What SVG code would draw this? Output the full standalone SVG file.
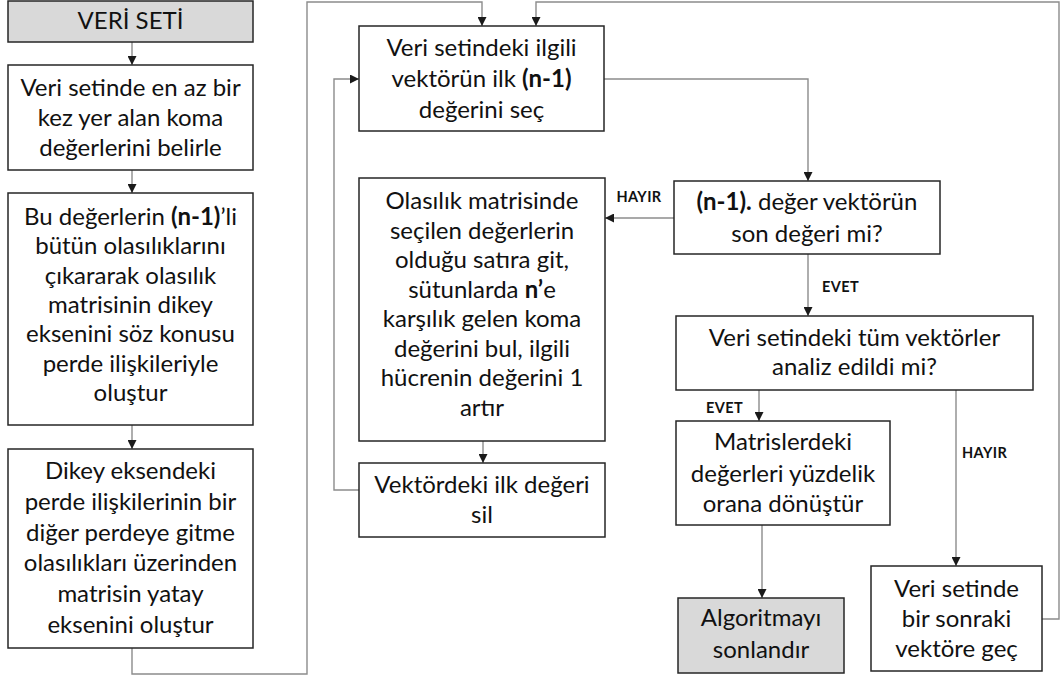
<svg xmlns="http://www.w3.org/2000/svg" width="1060" height="677" viewBox="0 0 1060 677">
<defs>
<style>
.box{fill:#ffffff;stroke:#262626;stroke-width:1.5}
.gray{fill:#d9d9d9}
.t{font-family:Lato,"Liberation Sans",sans-serif;font-size:24px;fill:#111111;text-anchor:middle}
.b{font-weight:bold}
.lbl{font-family:Lato,"Liberation Sans",sans-serif;font-size:14.5px;font-weight:bold;fill:#111111;letter-spacing:0.4px}
.c{fill:none;stroke:#8c8c8c;stroke-width:1.4}
</style>
<marker id="ah" viewBox="0 0 10 10" refX="10" refY="5" markerWidth="9" markerHeight="9" markerUnits="userSpaceOnUse" orient="auto">
<path d="M0,0 L10,5 L0,10 Z" fill="#1a1a1a"/>
</marker>
</defs>
<rect width="1060" height="677" fill="#ffffff"/>

<g id="connectors">
<path class="c" d="M132,42 V65" marker-end="url(#ah)"/>
<path class="c" d="M132,170 V193" marker-end="url(#ah)"/>
<path class="c" d="M132,425 V449" marker-end="url(#ah)"/>
<path class="c" d="M132,648 V674 H307 V2 H482 V26" marker-end="url(#ah)"/>
<path class="c" d="M359,490 H334 V79 H359" marker-end="url(#ah)"/>
<path class="c" d="M604,79 H808 V181" marker-end="url(#ah)"/>
<path class="c" d="M674,218 H605" marker-end="url(#ah)"/>
<path class="c" d="M483,441 V463" marker-end="url(#ah)"/>
<path class="c" d="M808,254 V316" marker-end="url(#ah)"/>
<path class="c" d="M759,390 V421" marker-end="url(#ah)"/>
<path class="c" d="M956,390 V566" marker-end="url(#ah)"/>
<path class="c" d="M762,525 V598" marker-end="url(#ah)"/>
<path class="c" d="M1042,619 H1059 V2 H536 V26" marker-end="url(#ah)"/>
<text class="lbl" x="639" y="202" text-anchor="middle">HAYIR</text>
<text class="lbl" x="822" y="292">EVET</text>
<text class="lbl" x="706" y="413">EVET</text>
<text class="lbl" x="962" y="458">HAYIR</text>
</g>

<g id="n1">
<rect class="box gray" x="8" y="1" width="245" height="41"/>
<text class="t" x="130.5" y="29">VERİ SETİ</text>
</g>
<g id="n2">
<rect class="box" x="8" y="65" width="245" height="105"/>
<text class="t" x="130.5" y="96">Veri setinde en az bir</text>
<text class="t" x="130.5" y="126">kez yer alan koma</text>
<text class="t" x="130.5" y="156">değerlerini belirle</text>
</g>
<g id="n3">
<rect class="box" x="8" y="193" width="245" height="232"/>
<text class="t" x="130.5" y="225">Bu değerlerin <tspan class="b">(n-1)</tspan>’li</text>
<text class="t" x="130.5" y="254">bütün olasılıklarını</text>
<text class="t" x="130.5" y="284">çıkararak olasılık</text>
<text class="t" x="130.5" y="313">matrisinin dikey</text>
<text class="t" x="130.5" y="342">eksenini söz konusu</text>
<text class="t" x="130.5" y="372">perde ilişkileriyle</text>
<text class="t" x="130.5" y="401">oluştur</text>
</g>
<g id="n4">
<rect class="box" x="8" y="449" width="245" height="199"/>
<text class="t" x="130.5" y="479">Dikey eksendeki</text>
<text class="t" x="130.5" y="510">perde ilişkilerinin bir</text>
<text class="t" x="130.5" y="541">diğer perdeye gitme</text>
<text class="t" x="130.5" y="571">olasılıkları üzerinden</text>
<text class="t" x="130.5" y="602">matrisin yatay</text>
<text class="t" x="130.5" y="633">eksenini oluştur</text>
</g>
<g id="n5">
<rect class="box" x="359" y="26" width="245" height="105"/>
<text class="t" x="481.5" y="56">Veri setindeki ilgili</text>
<text class="t" x="481.5" y="87">vektörün ilk <tspan class="b">(n-1)</tspan></text>
<text class="t" x="481.5" y="118">değerini seç</text>
</g>
<g id="n6">
<rect class="box" x="674" y="181" width="266" height="73"/>
<text class="t" x="807" y="210"><tspan class="b">(n-1).</tspan> değer vektörün</text>
<text class="t" x="807" y="242">son değeri mi?</text>
</g>
<g id="n7">
<rect class="box" x="359" y="178" width="246" height="263"/>
<text class="t" x="482" y="209">Olasılık matrisinde</text>
<text class="t" x="482" y="238.5">seçilen değerlerin</text>
<text class="t" x="482" y="268">olduğu satıra git,</text>
<text class="t" x="482" y="297.5">sütunlarda <tspan class="b">n’</tspan>e</text>
<text class="t" x="482" y="327">karşılık gelen koma</text>
<text class="t" x="482" y="356.5">değerini bul, ilgili</text>
<text class="t" x="482" y="386">hücrenin değerini 1</text>
<text class="t" x="482" y="415.5">artır</text>
</g>
<g id="n8">
<rect class="box" x="359" y="463" width="246" height="74"/>
<text class="t" x="482" y="493">Vektördeki ilk değeri</text>
<text class="t" x="482" y="523">sil</text>
</g>
<g id="n9">
<rect class="box" x="676" y="316" width="357" height="74"/>
<text class="t" x="854.5" y="346">Veri setindeki tüm vektörler</text>
<text class="t" x="854.5" y="375">analiz edildi mi?</text>
</g>
<g id="n10">
<rect class="box" x="676" y="421" width="214" height="104"/>
<text class="t" x="783" y="450">Matrislerdeki</text>
<text class="t" x="783" y="482">değerleri yüzdelik</text>
<text class="t" x="783" y="512">orana dönüştür</text>
</g>
<g id="n11">
<rect class="box gray" x="678" y="598" width="166" height="75"/>
<text class="t" x="761" y="626">Algoritmayı</text>
<text class="t" x="761" y="658">sonlandır</text>
</g>
<g id="n12">
<rect class="box" x="871" y="566" width="171" height="105"/>
<text class="t" x="956.5" y="597">Veri setinde</text>
<text class="t" x="956.5" y="627">bir sonraki</text>
<text class="t" x="956.5" y="657">vektöre geç</text>
</g>
</svg>
